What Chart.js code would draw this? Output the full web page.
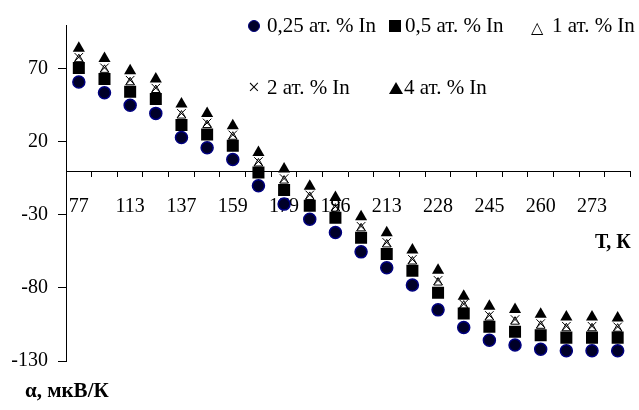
<!DOCTYPE html>
<html>
<head>
<meta charset="utf-8">
<script src="https://cdn.jsdelivr.net/npm/chart.js@4/dist/chart.umd.min.js"></script>
<style>
    body { margin: 0; background: #fff; }
    #chart_div { position: relative; width: 639px; height: 410px; font-family: "Liberation Serif", "Times New Roman", serif; color: #000; }
    #chart_div canvas { position: absolute; left: 0; top: 0; }
    .lbl { position: absolute; font-size: 21px; line-height: 21px; white-space: nowrap; }
    .mk { position: absolute; }
    .axis_title { position: absolute; font-size: 20px; font-weight: bold; line-height: 20px; white-space: nowrap; }
</style>
</head>
<body>
<div id="chart_div">
    <canvas id="alpha_chart" width="639" height="410"></canvas>

    <!-- legend, row 1 -->
    <div class="mk" style="left:248px; top:20px; width:10px; height:10px; border-radius:50%; background:#000028; border:1px solid #000080;"></div>
    <div class="lbl" style="left:267px; top:15px;">0,25 ат. % In</div>
    <div class="mk" style="left:389px; top:20px; width:12px; height:12px; background:#000;"></div>
    <div class="lbl" style="left:405px; top:15px;">0,5 ат. % In</div>
    <div class="lbl" style="left:531px; top:17px; font-size:16px; font-family:'DejaVu Sans';">△</div>
    <div class="lbl" style="left:552px; top:15px;">1 ат. % In</div>

    <!-- legend, row 2 -->
    <div class="lbl" style="left:248px; top:77px;">×</div>
    <div class="lbl" style="left:267px; top:77px;">2 ат. % In</div>
    <div class="mk" style="left:389px; top:82px; width:0; height:0; border-left:7px solid transparent; border-right:7px solid transparent; border-bottom:12px solid #000;"></div>
    <div class="lbl" style="left:404px; top:77px;">4 ат. % In</div>

    <div class="axis_title" style="left:595px; top:231px;">Т, К</div>
    <div class="axis_title" style="left:25px; top:380px; font-size:21px;">α, мкВ/К</div>
</div>

<script>
// temperature, K (only every second one is printed on the axis)
const temperatures = ["77", "", "113", "", "137", "", "159", "", "179", "", "196", "",
                      "213", "", "228", "", "245", "", "260", "", "273", ""];

// alpha, mkV/K for each In content
const alpha_025 = [61, 53.6, 45, 39.5, 23, 16, 8, -10, -22.6, -33, -42, -55.3,
                   -66.2, -78, -95, -107, -115.8, -119, -122, -123, -123, -123];
const alpha_05 = [70.5, 63, 54.3, 49.3, 31.5, 25, 17.3, -1, -13, -23.7, -32, -45.7,
                  -56.8, -68.3, -83.3, -97.5, -106.6, -110, -112.3, -114, -114, -114];
const alpha_1 = [76.6, 69.3, 60.8, 55.5, 38, 31.5, 23.5, 5.2, -6.5, -17.7, -25.7, -39.2,
                 -50.2, -61.9, -76.3, -92.1, -100.3, -103.1, -105.9, -107.6, -107.6, -107.9];
const alpha_2 = [77.9, 70.7, 62.2, 56.8, 39.5, 33, 24.8, 6.6, -5.1, -16.3, -24.3, -37.8,
                 -48.8, -60.4, -74.8, -91, -98.8, -101.6, -104.4, -106.2, -106.2, -106.6];
const alpha_4 = [84, 77, 68.7, 63, 46, 39.5, 31, 12.8, 1.4, -10.3, -18, -31.3,
                 -42.2, -54, -67.8, -85.6, -92.5, -94.7, -98, -99.8, -99.8, -100.5];

const y_ticks = [-130, -80, -30, 20, 70];

const alpha_chart = document.getElementById("alpha_chart").getContext("2d");
const axis_font = {"family": "'Liberation Serif', 'Times New Roman', serif", "size": 20};

new Chart(alpha_chart, {
    "type": "line",
    "data": {
        "labels": temperatures,
        "datasets": [
            {
                "label": "0,25 ат. % In",
                "data": alpha_025,
                "pointStyle": "circle",
                "pointRadius": 6,
                "backgroundColor": "#000028",
                "borderColor": "#000080",
                "pointBorderWidth": 1.5
            },
            {
                "label": "0,5 ат. % In",
                "data": alpha_05,
                "pointStyle": "rect",
                "pointRadius": 8.5,
                "backgroundColor": "#000",
                "borderColor": "#000",
                "pointBorderWidth": 0
            },
            {
                "label": "1 ат. % In",
                "data": alpha_1,
                "pointStyle": "triangle",
                "pointRadius": 5,
                "backgroundColor": "rgba(0,0,0,0)",
                "borderColor": "#000",
                "pointBorderWidth": 1
            },
            {
                "label": "2 ат. % In",
                "data": alpha_2,
                "pointStyle": "crossRot",
                "pointRadius": 6,
                "backgroundColor": "#000",
                "borderColor": "#000",
                "pointBorderWidth": 1
            },
            {
                "label": "4 ат. % In",
                "data": alpha_4,
                "pointStyle": "triangle",
                "pointRadius": 7,
                "backgroundColor": "#000",
                "borderColor": "#000",
                "pointBorderWidth": 0
            }
        ]
    },
    "options": {
        "responsive": false,
        "animation": false,
        "showLine": false,
        "layout": {"padding": {"top": 25, "right": 7, "bottom": 49, "left": 0}},
        "plugins": {
            "legend": {"display": false},
            "tooltip": {"enabled": false}
        },
        "scales": {
            "x": {
                "type": "category",
                "position": {"y": 0},   // axis crosses at alpha = 0
                "offset": true,
                "grid": {"offset": true, "drawOnChartArea": false, "tickLength": 5, "color": "#000"},
                "border": {"color": "#000", "width": 1},
                "ticks": {"autoSkip": false, "maxRotation": 0, "padding": 19, "color": "#000", "font": axis_font}
            },
            "y": {
                "min": -130,
                "max": 100,
                "afterBuildTicks": function (scale) {
                    scale.ticks = y_ticks.map(v => ({"value": v}));
                },
                "afterFit": function (scale) {
                    scale.width = 66;
                },
                "grid": {"drawOnChartArea": false, "tickLength": 8, "color": "#000"},
                "border": {"color": "#000", "width": 1},
                "ticks": {"padding": 10, "color": "#000", "font": axis_font}
            }
        }
    }
});
</script>
</body>
</html>
